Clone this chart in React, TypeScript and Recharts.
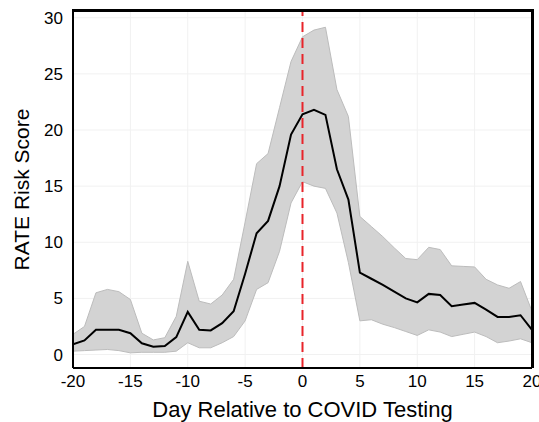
import React from "react";
import {
  ComposedChart,
  Area,
  Line,
  XAxis,
  YAxis,
  CartesianGrid,
  ReferenceLine,
} from "recharts";

const days = [
  -20, -19, -18, -17, -16, -15, -14, -13, -12, -11, -10, -9, -8, -7, -6, -5, -4,
  -3, -2, -1, 0, 1, 2, 3, 4, 5, 6, 7, 8, 9, 10, 11, 12, 13, 14, 15, 16, 17, 18,
  19, 20,
];

const meanScore = [
  0.9, 1.25, 2.2, 2.2, 2.2, 1.9, 1.0, 0.7, 0.75, 1.55, 3.8, 2.2, 2.15, 2.8, 3.85,
  7.2, 10.8, 11.9, 15.0, 19.6, 21.4, 21.8, 21.35, 16.5, 13.8, 7.3, 6.75, 6.2, 5.6,
  5.0, 4.65, 5.4, 5.3, 4.3, 4.45, 4.6, 4.0, 3.35, 3.35, 3.5, 2.2,
];

const upperBound = [
  1.8, 2.5, 5.5, 5.8, 5.6, 4.9, 1.9, 1.3, 1.5, 3.4, 8.3, 4.75, 4.5, 5.3, 6.7, 11.8,
  17.0, 17.9, 22.0, 26.1, 28.3, 28.9, 29.15, 23.6, 21.2, 12.3, 11.4, 10.5, 9.5,
  8.55, 8.45, 9.55, 9.35, 7.9, 7.85, 7.8, 6.7, 6.2, 5.9, 6.5, 3.85,
];

const lowerBound = [
  0.3, 0.35, 0.4, 0.45, 0.35, 0.15, 0.2, 0.2, 0.2, 0.3, 1.05, 0.6, 0.6, 1.05, 1.6,
  3.0, 5.8, 6.4, 9.2, 13.5, 15.4, 15.0, 14.8, 12.6, 8.2, 3.0, 3.1, 2.7, 2.4, 2.05,
  1.7, 2.2, 2.0, 1.6, 1.8, 2.0, 1.6, 1.05, 1.2, 1.4, 1.05,
];

const xTicks = [-20, -15, -10, -5, 0, 5, 10, 15, 20];
const yTicks = [0, 5, 10, 15, 20, 25, 30];
const X_DOMAIN = [-20, 20];
const Y_DOMAIN = [-1.2, 30.6];

const data = days.map((day, i) => ({
  day,
  score: meanScore[i],
  band: [lowerBound[i], upperBound[i]],
}));

const FONT = "'Liberation Sans', Arial, Helvetica, sans-serif";

export default function App() {
  return (
    <div style={{ position: "absolute", left: 0, top: 0, width: 539, height: 422, fontFamily: FONT }}>
      <ComposedChart
        width={539}
        height={422}
        data={data}
        margin={{ top: 11, right: 7, bottom: 0, left: 0 }}
      >
        <CartesianGrid stroke="#f1f1f1" />
        <Area
          dataKey="band"
          type="linear"
          stroke="#bcbcbc"
          strokeWidth={1}
          fill="#d3d3d3"
          fillOpacity={1}
          dot={false}
          activeDot={false}
          isAnimationActive={false}
        />
        <Line
          dataKey="score"
          type="linear"
          stroke="#000"
          strokeWidth={2}
          dot={false}
          activeDot={false}
          isAnimationActive={false}
        />
        <ReferenceLine
          x={0}
          stroke="#e8242a"
          strokeWidth={2}
          strokeDasharray="10 6"
        />
        <XAxis
          dataKey="day"
          type="number"
          domain={X_DOMAIN}
          allowDataOverflow
          ticks={xTicks}
          interval={0}
          tickLine={false}
          tickMargin={1}
          axisLine={{ stroke: "#000", strokeWidth: 2 }}
          tick={{ fontSize: 17, fill: "#000", fontFamily: FONT }}
          height={54}
          label={{
            value: "Day Relative to COVID Testing",
            position: "insideBottom",
            offset: 5,
            style: { fontSize: 22, fill: "#000", fontFamily: FONT },
          }}
        />
        <YAxis
          type="number"
          domain={Y_DOMAIN}
          allowDataOverflow
          ticks={yTicks}
          interval={0}
          tickLine={false}
          tickMargin={4}
          axisLine={{ stroke: "#000", strokeWidth: 2 }}
          tick={{ fontSize: 17, fill: "#000", fontFamily: FONT }}
          width={73}
          label={{
            value: "RATE Risk Score",
            angle: -90,
            position: "insideLeft",
            offset: 22,
            style: {
              fontSize: 21,
              fill: "#000",
              fontFamily: FONT,
              textAnchor: "middle",
            },
          }}
        />
      </ComposedChart>
      {/* top and right edges of the plot frame */}
      <div
        style={{
          position: "absolute",
          left: 72,
          top: 9,
          width: 462,
          height: 359,
          boxSizing: "border-box",
          borderTop: "3px solid #000",
          borderRight: "3px solid #000",
          pointerEvents: "none",
          zIndex: 10,
        }}
      />
    </div>
  );
}
